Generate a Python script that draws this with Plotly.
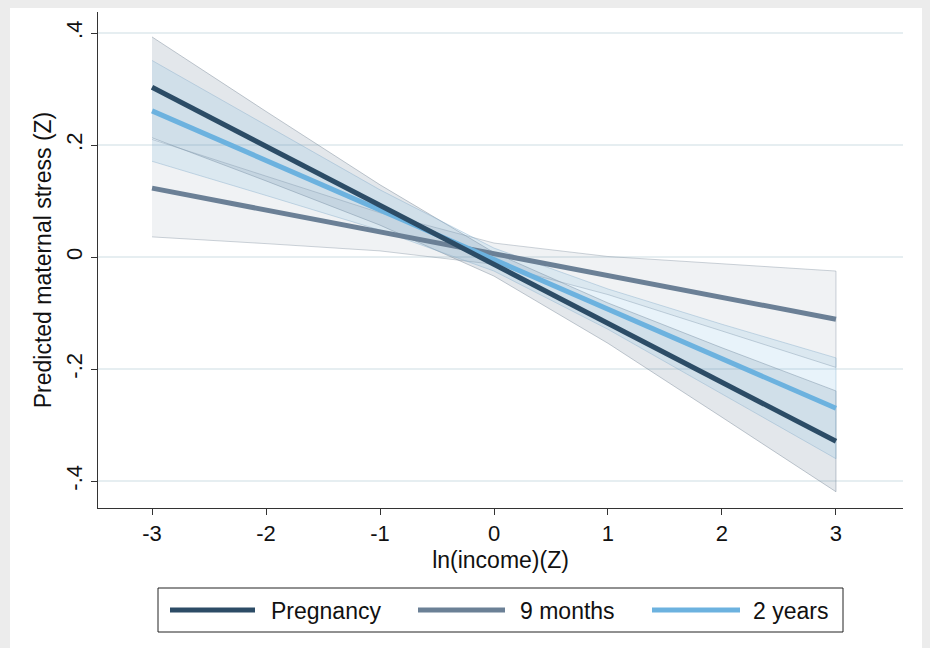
import plotly.graph_objects as go

# Standardized log income values at which predictions are evaluated
income_z = [-3, -2, -1, 0, 1, 2, 3]

# Predicted maternal stress (Z) with 95% confidence limits
preg_fit = [0.303, 0.198, 0.093, -0.013, -0.118, -0.224, -0.329]
preg_lo = [0.213, 0.136, 0.057, -0.034, -0.154, -0.286, -0.419]
preg_hi = [0.393, 0.260, 0.129, 0.008, -0.082, -0.162, -0.239]

nine_fit = [0.123, 0.084, 0.045, 0.006, -0.033, -0.072, -0.111]
nine_lo = [0.036, 0.024, 0.011, -0.013, -0.067, -0.132, -0.197]
nine_hi = [0.210, 0.144, 0.079, 0.025, 0.001, -0.012, -0.025]

two_fit = [0.261, 0.1725, 0.084, -0.0045, -0.093, -0.1815, -0.270]
two_lo = [0.171, 0.110, 0.048, -0.025, -0.129, -0.244, -0.360]
two_hi = [0.351, 0.235, 0.120, 0.016, -0.057, -0.120, -0.180]

series_names = ["Pregnancy", "9 months", "2 years"]
y_tickvals = [0.4, 0.2, 0, -0.2, -0.4]
y_ticktext = [".4", ".2", "0", "-.2", "-.4"]
x_tickvals = [-3, -2, -1, 0, 1, 2, 3]
x_ticktext = ["-3", "-2", "-1", "0", "1", "2", "3"]

line_colors = ["#2c4c66", "#6b8096", "#6cb2df"]
band_fills = ["rgba(60,85,115,0.14)", "rgba(108,128,150,0.10)", "rgba(109,178,223,0.16)"]
band_edges = ["rgba(120,135,150,0.45)", "rgba(130,145,160,0.40)", "rgba(130,170,200,0.40)"]

W, H = 930, 648
L, R, T, B = 98, 27, 12, 140
PW, PH = W - L - R, H - T - B

FONT = "Liberation Sans, Arial, Helvetica, sans-serif"

fig = go.Figure()

bands = [(preg_lo, preg_hi), (nine_lo, nine_hi), (two_lo, two_hi)]
fits = [preg_fit, nine_fit, two_fit]

# Confidence bands
for i, (lo, hi) in enumerate(bands):
    fig.add_trace(go.Scatter(
        x=income_z + income_z[::-1], y=hi + lo[::-1],
        fill="toself", fillcolor=band_fills[i],
        line=dict(color=band_edges[i], width=1),
        mode="lines", hoverinfo="skip", showlegend=False))

# Prediction lines (9 months first, then 2 years, pregnancy on top)
for i in [1, 2, 0]:
    fig.add_trace(go.Scatter(
        x=income_z, y=fits[i], mode="lines", name=series_names[i],
        line=dict(color=line_colors[i], width=5), showlegend=False))


def px_x(px):
    return (px - L) / PW


def px_y(py):
    return (H - B - py) / PH


shapes = [
    # white page panel over the grey border
    dict(type="rect", xref="paper", yref="paper", layer="below",
         x0=px_x(10), x1=px_x(922), y0=px_y(8), y1=px_y(H + 5),
         fillcolor="white", line=dict(width=0)),
    # legend frame
    dict(type="rect", xref="paper", yref="paper",
         x0=px_x(158), x1=px_x(843), y0=px_y(588), y1=px_y(632),
         fillcolor="white", line=dict(color="#222222", width=1)),
]
annotations = []
legend_line_x = [(170, 255), (418, 505), (652, 740)]
legend_text_x = [269, 518, 751]
for i, name in enumerate(series_names):
    x0, x1 = legend_line_x[i]
    shapes.append(dict(type="line", xref="paper", yref="paper",
                       x0=px_x(x0), x1=px_x(x1), y0=px_y(610), y1=px_y(610),
                       line=dict(color=line_colors[i], width=5)))
    annotations.append(dict(text=name, xref="paper", yref="paper",
                            x=px_x(legend_text_x[i]), y=px_y(611),
                            xanchor="left", yanchor="middle", showarrow=False,
                            font=dict(size=23, color="#111111", family=FONT)))

fig.update_layout(
    width=W, height=H,
    margin=dict(l=L, r=R, t=T, b=B, pad=0),
    paper_bgcolor="#ececec", plot_bgcolor="white",
    showlegend=False,
    shapes=shapes, annotations=annotations,
    font=dict(family=FONT, color="#111111"),
)

fig.update_xaxes(
    range=[-3.474, 3.588], tickvals=x_tickvals, ticktext=x_ticktext,
    showgrid=False, zeroline=False,
    showline=True, linecolor="#333333", linewidth=1,
    ticks="outside", ticklen=6, tickcolor="#333333",
    tickfont=dict(size=22, family=FONT, color="#111111"),
    title=dict(text="ln(income)(Z)", font=dict(size=23, family=FONT, color="#111111"), standoff=6),
)

fig.update_yaxes(
    range=[-0.448, 0.4375], tickvals=y_tickvals, ticktext=y_ticktext,
    tickangle=-90,
    showgrid=True, gridcolor="#e6eef1", gridwidth=1.5, zeroline=False,
    showline=True, linecolor="#333333", linewidth=1,
    ticks="outside", ticklen=6, tickcolor="#333333",
    tickfont=dict(size=22, family=FONT, color="#111111"),
    title=dict(text="Predicted maternal stress (Z)", font=dict(size=23, family=FONT, color="#111111"), standoff=4),
)

fig.write_html("out.html")
